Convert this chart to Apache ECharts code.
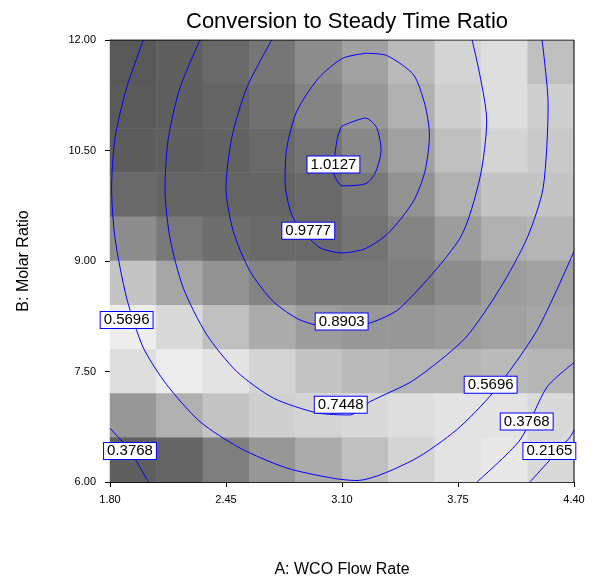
<!DOCTYPE html>
<html>
<head>
<meta charset="utf-8">
<script src="https://cdn.jsdelivr.net/npm/echarts@6/dist/echarts.min.js"></script>
<style>html,body{margin:0;padding:0;background:#fff}#chart{width:595px;height:579px}</style>
</head>
<body>
<div id="chart"></div>
<script>
// x / y tick labels
const xTicks = [1.8, 2.45, 3.1, 3.75, 4.4];
const yTicks = [6, 7.5, 9, 10.5, 12];

// background shading, gray level per cell, rows from top (B=12) to bottom (B=6)
const shade = [
    [88, 95, 105, 118, 140, 160, 185, 210, 220, 190],
    [90, 95, 100, 112, 130, 150, 175, 205, 220, 205],
    [92, 95, 98, 105, 115, 135, 160, 190, 210, 200],
    [105, 100, 100, 100, 105, 120, 145, 175, 195, 195],
    [140, 120, 110, 105, 105, 115, 130, 155, 175, 180],
    [195, 165, 145, 130, 120, 120, 125, 140, 155, 160],
    [235, 215, 190, 170, 155, 150, 150, 155, 160, 165],
    [220, 235, 225, 210, 195, 185, 180, 180, 185, 180],
    [150, 175, 195, 205, 210, 215, 220, 225, 225, 215],
    [95, 100, 125, 150, 170, 190, 210, 225, 230, 215]
];

// contour lines, [A, B] points
const c10127 = [[3.098,10.83],[3.233,10.94],[3.294,10.81],[3.319,10.50],[3.285,10.19],[3.233,10.05],[3.102,10.02],[3.052,10.22],[3.074,10.67],[3.098,10.83]];
const c09777 = [[3.233,11.82],[3.350,11.79],[3.500,11.53],[3.565,11.12],[3.590,10.71],[3.565,10.22],[3.500,9.81],[3.360,9.38],[3.233,9.17],[3.102,9.11],[2.971,9.19],[2.827,9.58],[2.781,10.08],[2.790,10.53],[2.846,11.03],[2.968,11.48],[3.102,11.75],[3.233,11.82]];
const c08903 = [[2.706,12.0],[2.566,11.35],[2.482,10.67],[2.450,9.99],[2.491,9.40],[2.585,8.86],[2.715,8.45],[2.865,8.20],[3.052,8.09],[3.257,8.16],[3.425,8.36],[3.761,9.31],[3.873,10.13],[3.911,10.90],[3.829,12.0]];
const c07448 = [[2.304,12.0],[2.192,11.35],[2.127,10.67],[2.108,9.99],[2.136,9.31],[2.211,8.63],[2.342,8.0],[2.510,7.50],[2.715,7.14],[2.958,6.94],[3.145,6.91],[3.257,7.09],[3.500,7.38],[3.789,7.95],[3.986,8.63],[4.137,9.31],[4.227,9.99],[4.255,11.12],[4.221,12.0]];
const c05696 = [[1.987,12.0],[1.893,11.35],[1.828,10.67],[1.809,9.99],[1.828,9.31],[1.893,8.50],[1.987,7.82],[2.118,7.32],[2.304,6.82],[2.529,6.46],[2.790,6.19],[3.052,6.05],[3.184,6.02],[3.500,6.30],[3.743,6.71],[3.948,7.22],[4.193,8.06],[4.40,9.13]];
const c03768a = [[1.8,6.73],[1.912,6.42],[2.015,6.0]];
const c03768b = [[3.856,6.0],[4.097,6.57],[4.249,7.29],[4.40,7.62]];
const c02165 = [[4.153,6.0],[4.378,6.61],[4.40,6.71]];

// contour labels
const labels = [
    [3.052, 10.31, '1.0127'],
    [2.911, 9.41, '0.9777'],
    [3.098, 8.18, '0.8903'],
    [3.093, 7.05, '0.7448'],
    [1.893, 8.20, '0.5696'],
    [1.912, 6.42, '0.3768'],
    [3.933, 7.32, '0.5696'],
    [4.135, 6.82, '0.3768'],
    [4.262, 6.42, '0.2165']
];

let heat = [];
for (let r = 0; r < shade.length; r++) {
    for (let c = 0; c < shade[r].length; c++) {
        heat.push([c, shade.length - 1 - r, shade[r][c]]);
    }
}
let cols = shade[0].map((v, i) => i);
let rows = shade.map((v, i) => i);

const gridPos = {left: 110, right: 21, top: 40, bottom: 97, containLabel: false, outerBoundsMode: 'none'};
const font = 'Liberation Sans, Arial, sans-serif';

function contour(data) {
    return {
        type: 'line', xAxisIndex: 1, yAxisIndex: 1, data: data,
        symbol: 'none', smooth: 0.25, silent: true, z: 5,
        lineStyle: {color: '#0000ff', width: 1}
    };
}

let chart = echarts.init(document.getElementById('chart'));
chart.setOption({
    animation: false,
    title: {
        text: 'Conversion to Steady Time Ratio', left: 342, top: 6, textAlign: 'center',
        textStyle: {fontFamily: font, fontSize: 22, fontWeight: 'normal', color: '#000'}
    },
    grid: [Object.assign({}, gridPos), Object.assign({}, gridPos)],
    visualMap: {show: false, min: 85, max: 240, seriesIndex: 0, inRange: {color: ['#555555', '#f2f2f2']}},
    xAxis: [
        {type: 'category', gridIndex: 0, data: cols, show: false},
        {
            type: 'value', gridIndex: 1, min: 1.8, max: 4.4, interval: 0.65,
            name: 'A: WCO Flow Rate', nameLocation: 'middle', nameGap: 80,
            nameTextStyle: {fontFamily: font, fontSize: 16, color: '#000'},
            axisLine: {lineStyle: {color: '#000'}},
            axisTick: {lineStyle: {color: '#000'}, length: 5},
            splitLine: {show: false},
            axisLabel: {fontFamily: font, fontSize: 11, color: '#000', margin: 12, formatter: v => v.toFixed(2)}
        }
    ],
    yAxis: [
        {type: 'category', gridIndex: 0, data: rows, show: false},
        {
            type: 'value', gridIndex: 1, min: 6, max: 12, interval: 1.5,
            name: 'B: Molar Ratio', nameLocation: 'middle', nameGap: 78,
            nameTextStyle: {fontFamily: font, fontSize: 16, color: '#000'},
            axisLine: {show: true, lineStyle: {color: '#000'}},
            axisTick: {show: true, lineStyle: {color: '#000'}, length: 5},
            splitLine: {show: false},
            axisLabel: {fontFamily: font, fontSize: 11, color: '#000', margin: 14, formatter: v => v.toFixed(2)}
        }
    ],
    series: [
        {type: 'heatmap', xAxisIndex: 0, yAxisIndex: 0, data: heat, silent: true},
        contour(c10127), contour(c09777), contour(c08903), contour(c07448),
        contour(c05696), contour(c03768a), contour(c03768b), contour(c02165),
        {
            type: 'scatter', xAxisIndex: 1, yAxisIndex: 1, symbolSize: 1, z: 10, silent: true,
            itemStyle: {opacity: 1, color: '#fff'},
            data: labels.map(d => ({value: [d[0], d[1]], name: d[2]})),
            label: {
                show: true, position: 'inside', formatter: p => p.name, opacity: 1,
                fontFamily: font, fontSize: 15, color: '#000',
                backgroundColor: '#ffffff', borderColor: '#0000ff', borderWidth: 1,
                padding: [1, 3, 0, 3]
            }
        },
        // frame round the plot
        {
            type: 'line', xAxisIndex: 1, yAxisIndex: 1, symbol: 'none', silent: true, z: 6,
            data: [[1.8, 12], [4.4, 12], [4.4, 6]], lineStyle: {color: '#000', width: 1}
        }
    ]
});
</script>
</body>
</html>
